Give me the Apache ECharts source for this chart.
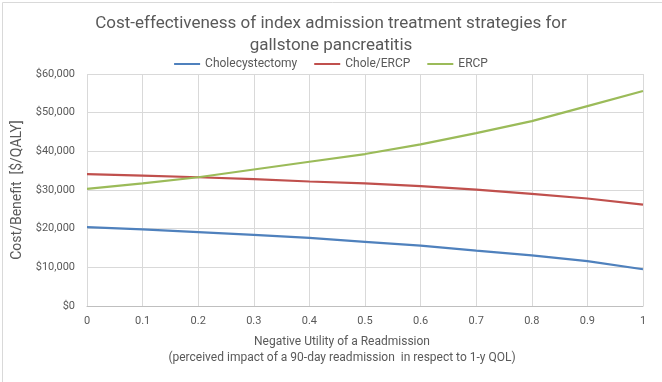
<!DOCTYPE html>
<html><head><meta charset="utf-8">
<script src="https://cdn.jsdelivr.net/npm/echarts@6/dist/echarts.min.js"></script>
<style>html,body{margin:0;padding:0;background:#fff}#c{width:662px;height:382px}</style>
</head><body><div id="c"></div>
<script>
const xValues = [0, 0.1, 0.2, 0.3, 0.4, 0.5, 0.6, 0.7, 0.8, 0.9, 1];
const cholecystectomy = [20400, 19800, 19100, 18400, 17600, 16600, 15600, 14300, 13100, 11600, 9500];
const choleErcp = [34100, 33700, 33300, 32800, 32200, 31700, 31000, 30100, 29000, 27800, 26200];
const ercp = [30300, 31700, 33300, 35300, 37300, 39300, 41800, 44700, 47800, 51700, 55600];
const seriesNames = ['Cholecystectomy', 'Chole/ERCP', 'ERCP'];
const colors = ['#4F81BD', '#C0504D', '#9BBB59'];
const xAxisTitle = 'Negative Utility of a Readmission\n(perceived impact of a 90-day readmission  in respect to 1-y QOL)';

const FONT = 'Roboto, sans-serif';
const chart = echarts.init(document.getElementById('c'));
const mk = (name, vals, color) => ({
  name, type: 'line', data: xValues.map((x, i) => [x, vals[i]]),
  showSymbol: false, symbol: 'none', lineStyle: { width: 2.2, color }, itemStyle: { color }
});
chart.setOption({
  animation: false,
  textStyle: { fontFamily: FONT },
  graphic: [
    { type: 'rect', left: 0, top: 0, shape: { x: 0.5, y: 0.5, width: 661, height: 381 },
      style: { fill: 'none', stroke: '#D9D9D9', lineWidth: 1 }, silent: true },
    { type: 'text', x: 342, y: 350, silent: true,
      style: { text: xAxisTitle, align: 'center', verticalAlign: 'middle', fontFamily: FONT,
        fontSize: 12, fill: '#595959', lineHeight: 16 } }
  ],
  title: { text: 'Cost-effectiveness of index admission treatment strategies for\ngallstone pancreatitis',
    left: 'center', top: 8, textStyle: { fontFamily: FONT, fontSize: 17, fontWeight: 'normal', color: '#595959', lineHeight: 22 } },
  legend: { top: 53, left: 'center', itemWidth: 26, itemHeight: 2, itemGap: 17, icon: 'rect',
    textStyle: { fontFamily: FONT, fontSize: 12, color: '#595959' }, data: seriesNames },
  grid: { left: 87, right: 19, top: 74, bottom: 76, containLabel: false },
  xAxis: { type: 'value', min: 0, max: 1, interval: 0.1,
    axisLine: { show: true, lineStyle: { color: '#BFBFBF' } }, axisTick: { show: false },
    axisLabel: { fontFamily: FONT, fontSize: 11, color: '#595959', margin: 10,
      formatter: v => String(Math.round(v * 10) / 10) },
    splitLine: { show: true, lineStyle: { color: '#D9D9D9' } } },
  yAxis: { type: 'value', min: 0, max: 60000, interval: 10000,
    name: 'Cost/Benefit  [$/QALY]', nameLocation: 'middle', nameGap: 62,
    nameTextStyle: { fontFamily: FONT, fontSize: 14, color: '#595959' },
    axisLine: { show: false }, axisTick: { show: false },
    axisLabel: { fontFamily: FONT, fontSize: 11, color: '#595959', margin: 12,
      formatter: v => '$' + v.toLocaleString('en-US') },
    splitLine: { show: true, lineStyle: { color: '#D9D9D9' } } },
  series: [mk(seriesNames[0], cholecystectomy, colors[0]), mk(seriesNames[1], choleErcp, colors[1]), mk(seriesNames[2], ercp, colors[2])]
});
</script></body></html>
